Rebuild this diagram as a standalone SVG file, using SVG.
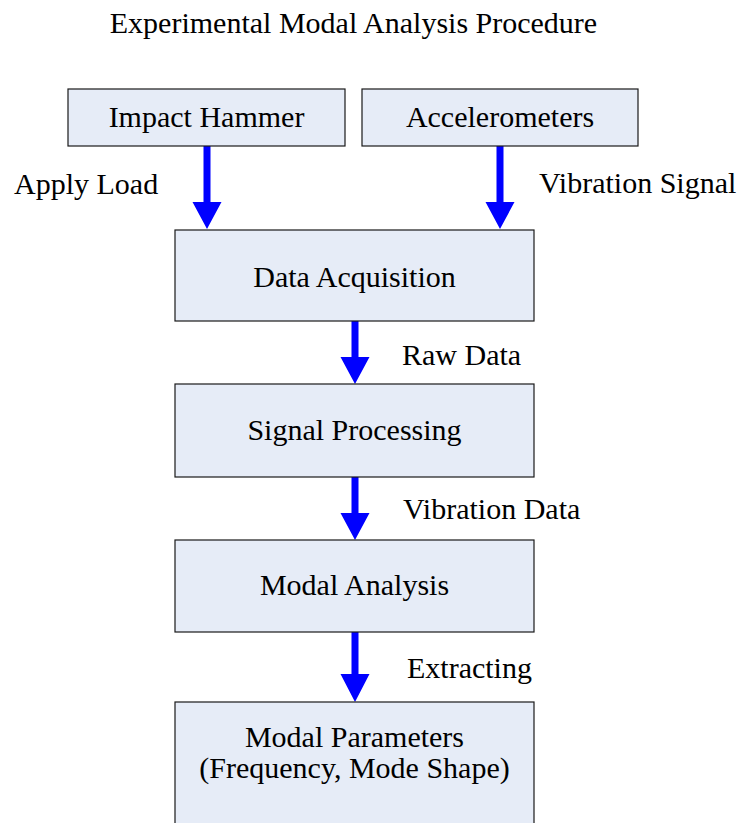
<svg xmlns="http://www.w3.org/2000/svg" width="742" height="823" viewBox="0 0 742 823">
<style>
text{font-family:"Liberation Serif","Times New Roman",serif;font-size:30px;fill:#000}
.c{text-anchor:middle}
.box{fill:#E6ECF7;stroke:#1a1a1a;stroke-width:1.2}
.arr{fill:#0000FF;stroke:none}
</style>
<rect width="742" height="823" fill="#fff"/>
<text id="title" class="c" x="353.5" y="33">Experimental Modal Analysis Procedure</text>
<g id="connectors">
<path class="arr" d="M203.5 146H210.5V202H221.5L207 229L192.5 202H203.5Z"/>
<path class="arr" d="M496.5 146H503.5V202H514.5L500 229L485.5 202H496.5Z"/>
<path class="arr" d="M351.5 321H358.5V357H369.5L355 384L340.5 357H351.5Z"/>
<path class="arr" d="M351.5 477H358.5V513H369.5L355 540L340.5 513H351.5Z"/>
<path class="arr" d="M351.5 632H358.5V674H369.5L355 702L340.5 674H351.5Z"/>
<text x="14" y="194">Apply Load</text>
<text x="539" y="193">Vibration Signal</text>
<text x="402" y="365">Raw Data</text>
<text x="403" y="519">Vibration Data</text>
<text x="407" y="678">Extracting</text>
</g>
<g id="impact-hammer"><rect class="box" x="68" y="89" width="277" height="57"/><text class="c" x="206.5" y="127">Impact Hammer</text></g>
<g id="accelerometers"><rect class="box" x="362" y="89" width="276" height="57"/><text class="c" x="500" y="127">Accelerometers</text></g>
<g id="data-acquisition"><rect class="box" x="175" y="230" width="359" height="91"/><text class="c" x="354.5" y="287">Data Acquisition</text></g>
<g id="signal-processing"><rect class="box" x="175" y="384" width="359" height="93"/><text class="c" x="354.5" y="440">Signal Processing</text></g>
<g id="modal-analysis"><rect class="box" x="175" y="540" width="359" height="92"/><text class="c" x="354.5" y="595">Modal Analysis</text></g>
<g id="modal-parameters"><rect class="box" x="175" y="702" width="359" height="140"/><text class="c" x="354.5" y="747">Modal Parameters</text><text class="c" x="354.5" y="778">(Frequency, Mode Shape)</text></g>
</svg>
